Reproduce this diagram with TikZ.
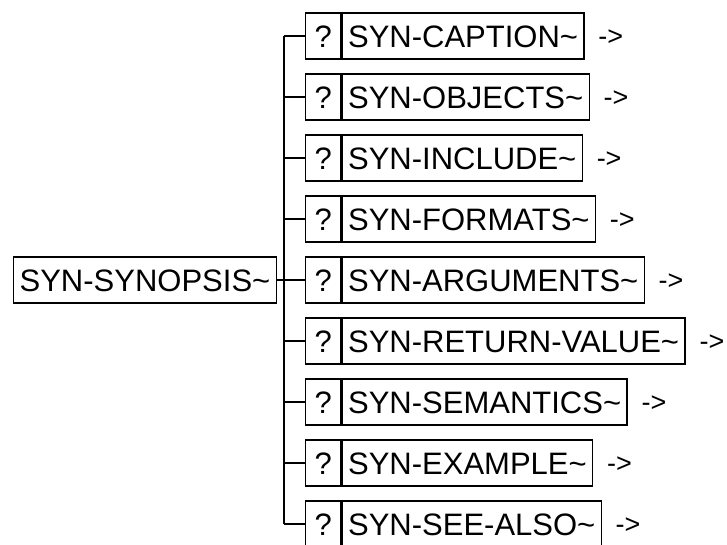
\documentclass[tikz,border=0pt]{standalone}
\usepackage{fontspec}
\setmainfont{Liberation Sans}
\usetikzlibrary{positioning}

\begin{document}
\begin{tikzpicture}[x=1pt,y=-1pt,
    line width=1.4pt,
    font=\fontsize{31}{36}\selectfont,
    synbox/.style={draw, rectangle, minimum height=46pt, inner xsep=6pt, text height=22pt, text depth=0pt},
    optbox/.style={synbox, minimum width=35pt, inner xsep=0pt},
    contmark/.style={inner sep=0pt, font=\fontsize{27}{32}\selectfont}]
  \useasboundingbox (0,0) rectangle (727,544);

  % root
  \node[synbox, anchor=east] (root) at (277,280) {SYN-SYNOPSIS\textasciitilde};
  \coordinate (trunk) at (284,280);

  % children
  \foreach \name [count=\i] in {CAPTION,OBJECTS,INCLUDE,FORMATS,ARGUMENTS,RETURN-VALUE,SEMANTICS,EXAMPLE,SEE-ALSO} {
    \node[optbox, anchor=west] (q\i) at (305,{36+61*(\i-1)}) {?};
    \node[synbox, anchor=west] (l\i) at (q\i.east) {SYN-\name\textasciitilde};
    \node[contmark, right=13pt of l\i, yshift=-2pt] (a\i) {->};
    \draw (trunk |- q\i.west) -- (q\i.west);
  }
  \draw (trunk |- q1.west) -- (trunk |- q9.west);
  \draw (root.east) -- (trunk);
\end{tikzpicture}
\end{document}
